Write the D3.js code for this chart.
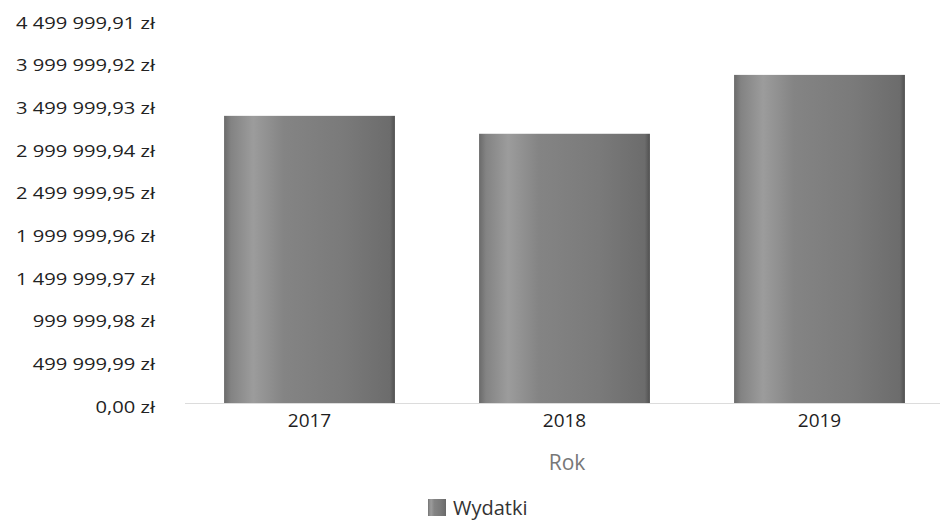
<!DOCTYPE html>
<html><head><meta charset="utf-8">
<script src="https://cdn.jsdelivr.net/npm/d3@7"></script>
<style>body{margin:0;background:#fff}svg{display:block}text{font-family:"Open Sans",sans-serif}</style>
</head><body><svg id="c" width="940" height="522"></svg>
<script>
const categories = ["2017", "2018", "2019"];
const values = [3365000, 3155000, 3845000];
const tickValues = [0, 499999.99, 999999.98, 1499999.97, 1999999.96, 2499999.95, 2999999.94, 3499999.93, 3999999.92, 4499999.91];
const tickLabels = ["0,00 zł", "499 999,99 zł", "999 999,98 zł", "1 499 999,97 zł", "1 999 999,96 zł", "2 499 999,95 zł", "2 999 999,94 zł", "3 499 999,93 zł", "3 999 999,92 zł", "4 499 999,91 zł"];
const seriesName = "Wydatki";
const xTitle = "Rok";

const svg = d3.select("#c");
const defs = svg.append("defs");
const g = defs.append("linearGradient").attr("id","bg").attr("x1","0").attr("x2","1").attr("y1","0").attr("y2","0");
[[0,"#6a6a6a"],[0.04,"#838383"],[0.17,"#9c9c9c"],[0.35,"#848484"],[0.7,"#7a7a7a"],[0.97,"#6c6c6c"],[1,"#505050"]].forEach(([o,c])=>g.append("stop").attr("offset",o).attr("stop-color",c));

const x = d3.scaleBand().domain(categories).range([182, 947]).paddingInner(0.33).paddingOuter(0.165);
const y = d3.scaleLinear().domain([0, tickValues[tickValues.length-1]]).range([403, 19]);

// baseline
svg.append("line").attr("x1",185).attr("x2",940).attr("y1",y(0)+0.5).attr("y2",y(0)+0.5).attr("stroke","#dcdcdc");

// y axis
const yAxis = d3.axisLeft(y).tickValues(tickValues).tickFormat((d,i)=>tickLabels[i]).tickSize(0).tickPadding(0);
const ya = svg.append("g").attr("transform","translate(155,4)").call(yAxis);
ya.select(".domain").remove();
ya.selectAll("text").attr("x",0).attr("font-size",16).attr("fill","#222")
  .attr("font-family","'Open Sans',sans-serif").attr("transform","scale(1.26,1)");

// bars
svg.append("g").selectAll("rect").data(values).join("rect")
  .attr("x",(d,i)=>x(categories[i])).attr("width",x.bandwidth())
  .attr("y",d=>y(d)).attr("height",d=>y(0)-y(d))
  .attr("fill","url(#bg)");

// x axis
const xAxis = d3.axisBottom(x).tickSize(0).tickPadding(11);
const xa = svg.append("g").attr("transform",`translate(0,${y(0)})`).call(xAxis);
xa.select(".domain").remove();
xa.selectAll("text").attr("font-size",19).attr("fill","#1e1e1e").attr("font-family","'Open Sans',sans-serif");

svg.append("text").attr("x",567).attr("y",470).attr("text-anchor","middle").attr("font-size",21).attr("fill","#777").text(xTitle);

// legend
svg.append("rect").attr("x",428).attr("y",499).attr("width",18).attr("height",17).attr("fill","url(#bg)");
svg.append("text").attr("x",453).attr("y",515).attr("font-size",20).attr("fill","#333").text(seriesName);
</script></body></html>
